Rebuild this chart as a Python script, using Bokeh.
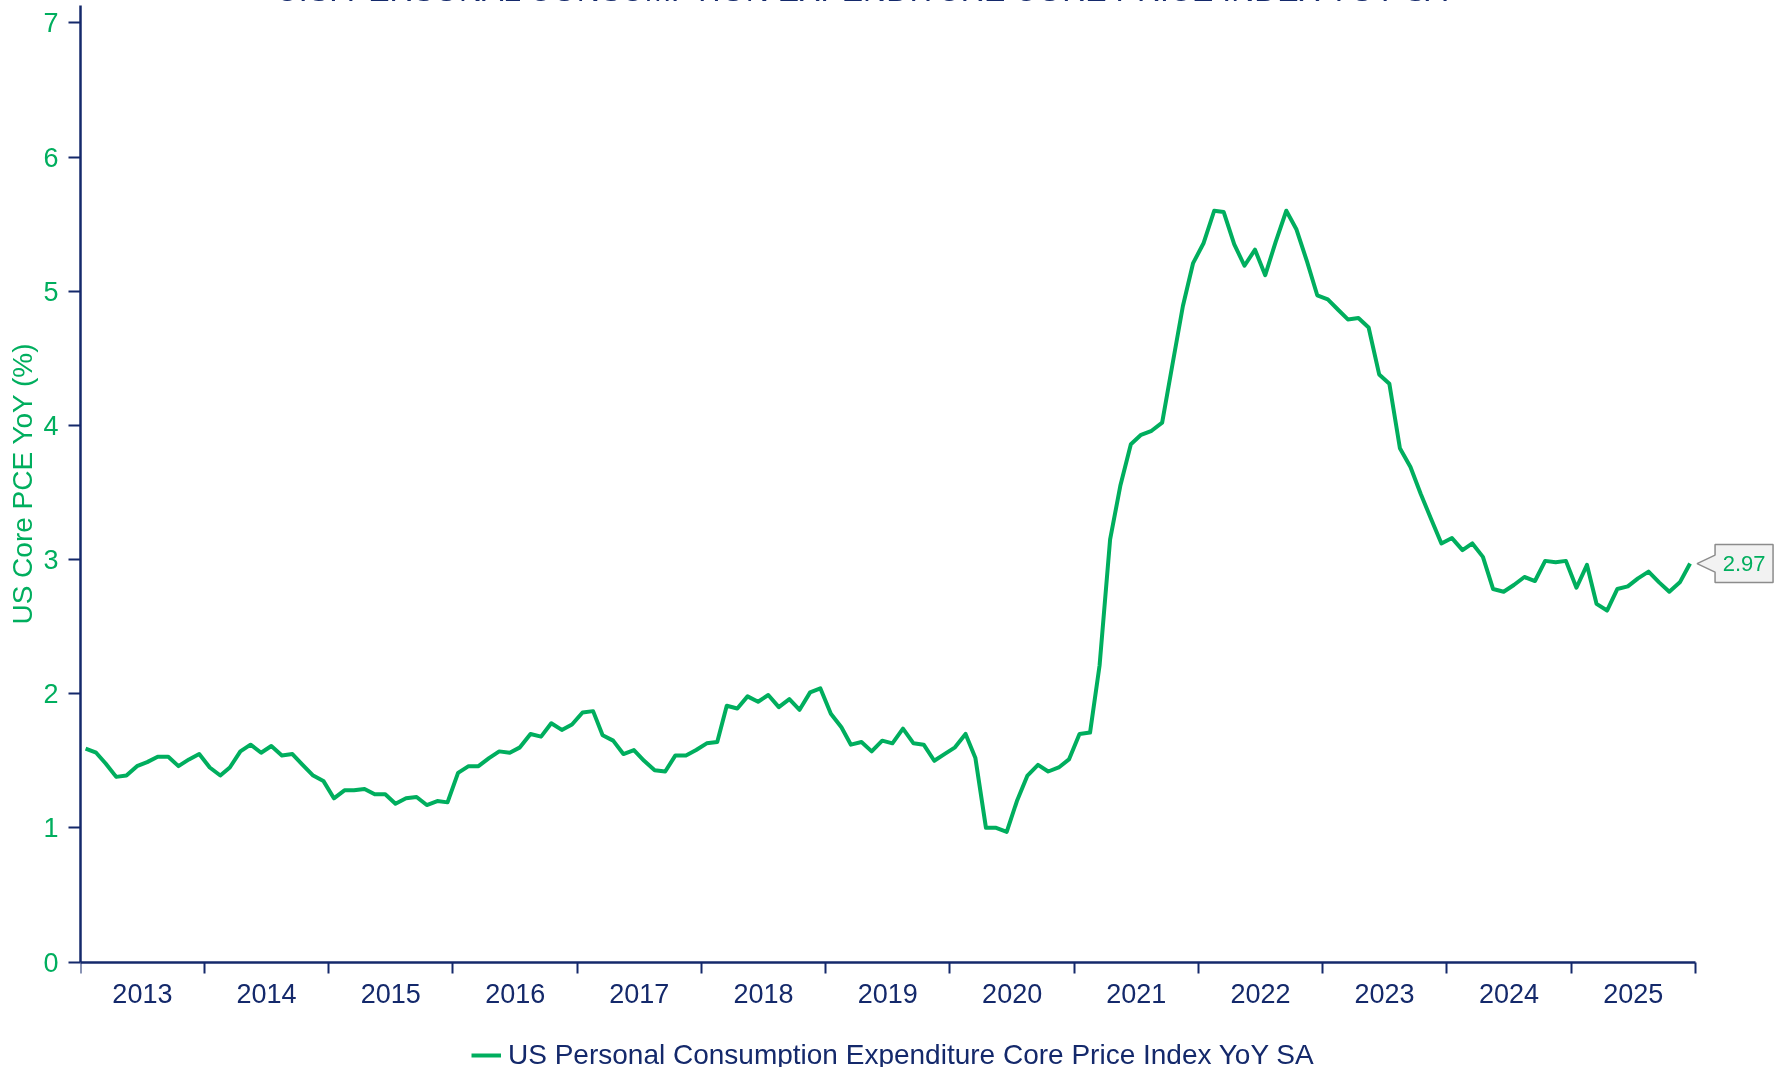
from datetime import datetime
from bokeh.plotting import figure
from bokeh.models import (FixedTicker, DatetimeTickFormatter, Range1d, Label, Legend,
                          LegendItem, ColumnDataSource)
from bokeh.core.properties import value
from bokeh.embed import file_html
from bokeh.resources import INLINE

# ---------------- data ----------------
years = list(range(2013, 2026))
v2013 = [1.59, 1.56, 1.48, 1.38, 1.39, 1.46, 1.49, 1.53, 1.53, 1.46, 1.51, 1.55]
v2014 = [1.45, 1.39, 1.45, 1.57, 1.62, 1.56, 1.61, 1.54, 1.55, 1.47, 1.39, 1.35]
v2015 = [1.22, 1.28, 1.28, 1.29, 1.25, 1.25, 1.18, 1.22, 1.23, 1.17, 1.20, 1.19]
v2016 = [1.41, 1.46, 1.46, 1.52, 1.57, 1.56, 1.60, 1.70, 1.68, 1.78, 1.73, 1.77]
v2017 = [1.86, 1.87, 1.69, 1.65, 1.55, 1.58, 1.50, 1.43, 1.42, 1.54, 1.54, 1.58]
v2018 = [1.63, 1.64, 1.91, 1.89, 1.98, 1.94, 1.99, 1.90, 1.96, 1.88, 2.01, 2.04]
v2019 = [1.85, 1.75, 1.62, 1.64, 1.57, 1.65, 1.63, 1.74, 1.63, 1.62, 1.50, 1.55]
v2020 = [1.60, 1.70, 1.52, 1.00, 1.00, 0.97, 1.20, 1.39, 1.47, 1.42, 1.45, 1.51]
v2021 = [1.70, 1.71, 2.21, 3.15, 3.55, 3.86, 3.93, 3.96, 4.02, 4.45, 4.89, 5.21]
v2022 = [5.36, 5.60, 5.59, 5.35, 5.19, 5.31, 5.12, 5.37, 5.60, 5.46, 5.22, 4.97]
v2023 = [4.94, 4.86, 4.79, 4.80, 4.73, 4.38, 4.31, 3.83, 3.69, 3.49, 3.30, 3.12]
v2024 = [3.16, 3.07, 3.12, 3.02, 2.78, 2.76, 2.81, 2.87, 2.84, 2.99, 2.98, 2.99]
v2025 = [2.79, 2.96, 2.67, 2.62, 2.78, 2.80, 2.86, 2.91, 2.83, 2.76, 2.83, 2.97]
yearly_values = [v2013, v2014, v2015, v2016, v2017, v2018, v2019,
                 v2020, v2021, v2022, v2023, v2024, v2025]
y_ticks = [0, 1, 2, 3, 4, 5, 6, 7]
y_axis_top = 7.13

title_text = "U.S. PERSONAL CONSUMPTION EXPENDITURE CORE PRICE INDEX YOY SA"
series_name = "US Personal Consumption Expenditure Core Price Index YoY SA"
y_label = "US Core PCE YoY (%)"

# ---------------- styling / layout ----------------
GREEN = "#00AE5E"
NAVY = "#14296B"
FONT = "Liberation Sans"

dates = []
values = []
for yr, vals in zip(years, yearly_values):
    for m, v in enumerate(vals, start=1):
        dates.append(datetime(yr, m, 16))
        values.append(v)

def ms(d):
    return (d - datetime(1970, 1, 1)).total_seconds() * 1000.0

x_start = ms(datetime(years[0], 1, 1))
x_axis_end = ms(datetime(years[-1] + 1, 1, 1))

SHIFT = 114                 # canvas is moved up (page y = canvas y - SHIFT)
W = 1781
MB_L, MB_R, MB_T, MB_B = 80, 0, 0, 60
FRAME_BOTTOM = 1080 + SHIFT # canvas y of the frame bottom (just below the visible page)
H = FRAME_BOTTOM + MB_B
AXIS_W = 1615               # pixel length of the 2013..2026 axis
ZERO_Y = 961.5 + SHIFT      # canvas y of value 0
AXIS_H = 956.5              # pixel height of the 0..y_axis_top axis
TITLE_PAGE_Y = -10.4

frame_w = W - MB_L - MB_R
frame_h = FRAME_BOTTOM - MB_T
px_x = (x_axis_end - x_start) / AXIS_W
px_y = y_axis_top / AXIS_H
x_view_end = x_start + frame_w * px_x
y_view_end = (ZERO_Y - MB_T) * px_y
y_view_start = -(FRAME_BOTTOM - ZERO_Y) * px_y

p = figure(width=W, height=H, x_axis_type="datetime",
           x_range=Range1d(x_start, x_view_end),
           y_range=Range1d(y_view_start, y_view_end),
           output_backend="svg", toolbar_location=None,
           min_border_left=MB_L, min_border_right=MB_R,
           min_border_top=MB_T, min_border_bottom=MB_B)
p.styles = {"position": "fixed", "top": f"-{SHIFT}px", "left": "0px"}
p.outline_line_color = None
p.xgrid.grid_line_color = None
p.ygrid.grid_line_color = None
p.background_fill_color = "white"
p.border_fill_color = "white"

src = ColumnDataSource(dict(date=dates, value=values))
r = p.line(x="date", y="value", source=src, line_color=GREEN, line_width=4,
           line_join="round")

# x axis at value 0: labels mid-year, ticks at year boundaries
xa = p.xaxis[0]
xa.fixed_location = 0
xa.bounds = (x_start, x_axis_end)
xa.ticker = FixedTicker(ticks=[ms(datetime(y, 7, 2)) for y in years],
                        minor_ticks=[ms(datetime(y, 1, 1)) for y in years + [years[-1] + 1]])
fmt = "%Y"
xa.formatter = DatetimeTickFormatter(microseconds=fmt, milliseconds=fmt, seconds=fmt,
                                     minsec=fmt, minutes=fmt, hourmin=fmt, hours=fmt,
                                     days=fmt, months=fmt, years=fmt)
xa.major_tick_line_color = None
xa.major_tick_out = 0
xa.major_tick_in = 0
xa.minor_tick_out = 11
xa.minor_tick_in = 0
xa.minor_tick_line_color = NAVY
xa.minor_tick_line_width = 2
xa.axis_line_color = NAVY
xa.axis_line_width = 2.5
xa.major_label_text_color = NAVY
xa.major_label_text_font = FONT
xa.major_label_text_font_size = "27px"
xa.major_label_standoff = 11

ya = p.yaxis[0]
ya.bounds = (0, y_axis_top)
ya.ticker = FixedTicker(ticks=y_ticks)
ya.minor_tick_line_color = None
ya.major_tick_out = 12
ya.major_tick_in = 0
ya.major_tick_line_color = NAVY
ya.major_tick_line_width = 2
ya.axis_line_color = NAVY
ya.axis_line_width = 2.5
ya.major_label_text_color = GREEN
ya.major_label_text_font = FONT
ya.major_label_text_font_size = "27px"
ya.major_label_standoff = 10
ya.axis_label = y_label
ya.axis_label_text_color = GREEN
ya.axis_label_text_font = FONT
ya.axis_label_text_font_size = "28px"
ya.axis_label_text_font_style = "normal"
ya.axis_label_standoff = 2

# title (mostly above the visible area, as in the reference)
p.add_layout(Label(x=782, y=frame_h - (TITLE_PAGE_Y + SHIFT), x_units="screen", y_units="screen",
                   text=title_text, text_align="center", text_baseline="alphabetic",
                   text_font=FONT, text_font_size="32px", text_color=NAVY))

# legend under the axis labels
legend = Legend(items=[LegendItem(label=series_name, renderers=[r])],
                location=(391, 9), orientation="horizontal",
                label_text_font=FONT, label_text_font_size="28px",
                label_text_color=NAVY, glyph_width=30, glyph_height=20,
                label_standoff=7, padding=0, spacing=0, margin=0,
                border_line_color=None, background_fill_alpha=0)
p.add_layout(legend)

# last-value callout (pointer box to the right of the last point)
lx, ly = ms(dates[-1]), values[-1]
shape = [(7, 0), (25, 8.5), (25, 19), (83, 19), (83, -19), (25, -19), (25, -8.5)]
p.patch(x=[lx + dx * px_x for dx, dy in shape],
        y=[ly + dy * px_y for dx, dy in shape],
        fill_color="#F2F2F2", fill_alpha=1, line_color="#8C8C8C", line_width=1.5)
p.text(x=[lx], y=[ly], text=[f"{values[-1]:.2f}"], x_offset=54,
       text_align="center", text_baseline="middle",
       text_font=value(FONT), text_font_size="22px", text_color=GREEN)

open("out.html", "w").write(file_html(p, INLINE))
